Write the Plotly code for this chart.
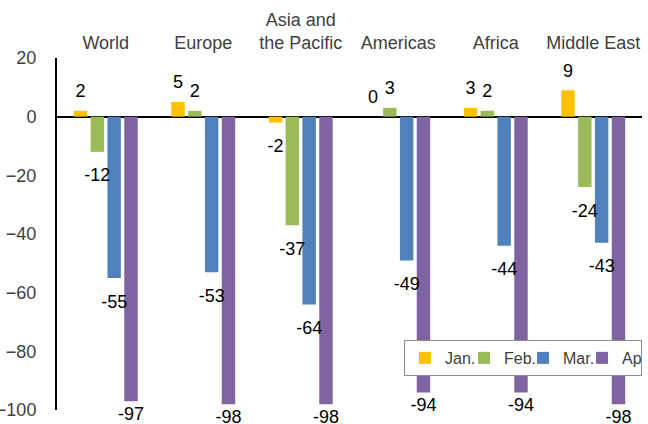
import plotly.graph_objects as go

categories = ["World", "Europe", "Asia and<br>the Pacific", "Americas", "Africa", "Middle East"]
series_names = ["Jan.", "Feb.", "Mar.", "Apr."]
jan = [2, 5, -2, 0, 3, 9]
feb = [-12, 2, -37, 3, 2, -24]
mar = [-55, -53, -64, -49, -44, -43]
apr = [-97, -98, -98, -94, -94, -98]
colors = ["#FFC000", "#9BBB59", "#4F81BD", "#8064A2"]
pad_pos = 13                 # invisible marker size -> label offset above positive bars
pad_neg = [24, 24, 24, 7]    # invisible marker size -> label offset below negative bars

series_values = [jan, feb, mar, apr]
FONT = "Liberation Sans, Arial, sans-serif"
FS = 18

fig = go.Figure()
for name, vals, col in zip(series_names, series_values, colors):
    fig.add_trace(go.Bar(x=categories, y=vals, name=name, marker=dict(color=col, line=dict(width=0))))
for name, vals, pn in zip(series_names, series_values, pad_neg):
    fig.add_trace(go.Scatter(
        x=categories, y=vals, mode="markers+text",
        text=[str(v) for v in vals],
        textposition=["top center" if v >= 0 else "bottom center" for v in vals],
        textfont=dict(family=FONT, size=FS, color="#000000"),
        marker=dict(size=[pad_pos if v >= 0 else pn for v in vals],
                    color="rgba(0,0,0,0)", line=dict(width=0, color="rgba(0,0,0,0)")),
        showlegend=False, hoverinfo="skip", cliponaxis=False,
    ))

fig.update_layout(
    width=648, height=424,
    margin=dict(l=57, r=6, t=58, b=14),
    paper_bgcolor="white", plot_bgcolor="white",
    barmode="group", bargap=0.31, bargroupgap=0.2,
    scattermode="group", scattergap=0.31,
    font=dict(family=FONT, size=FS, color="#404040"),
    legend=dict(orientation="h", x=1, y=0.199, xanchor="right", yanchor="top",
                bgcolor="white", bordercolor="#8c8c8c", borderwidth=1,
                font=dict(family=FONT, size=16, color="#404040"),
                itemwidth=30, entrywidth=14),
)
fig.update_xaxes(side="top", showline=False, showgrid=False, ticks="", ticklabelstandoff=4,
                 automargin=False, tickfont=dict(family=FONT, size=FS, color="#404040"))
fig.update_yaxes(range=[-100, 20], dtick=20, showgrid=False, showline=True, linecolor="black",
                 linewidth=2, zeroline=True, zerolinecolor="black", zerolinewidth=2,
                 ticks="", ticklabelstandoff=15, automargin=False,
                 tickfont=dict(family=FONT, size=FS, color="#404040"))

fig.write_html("out.html")
